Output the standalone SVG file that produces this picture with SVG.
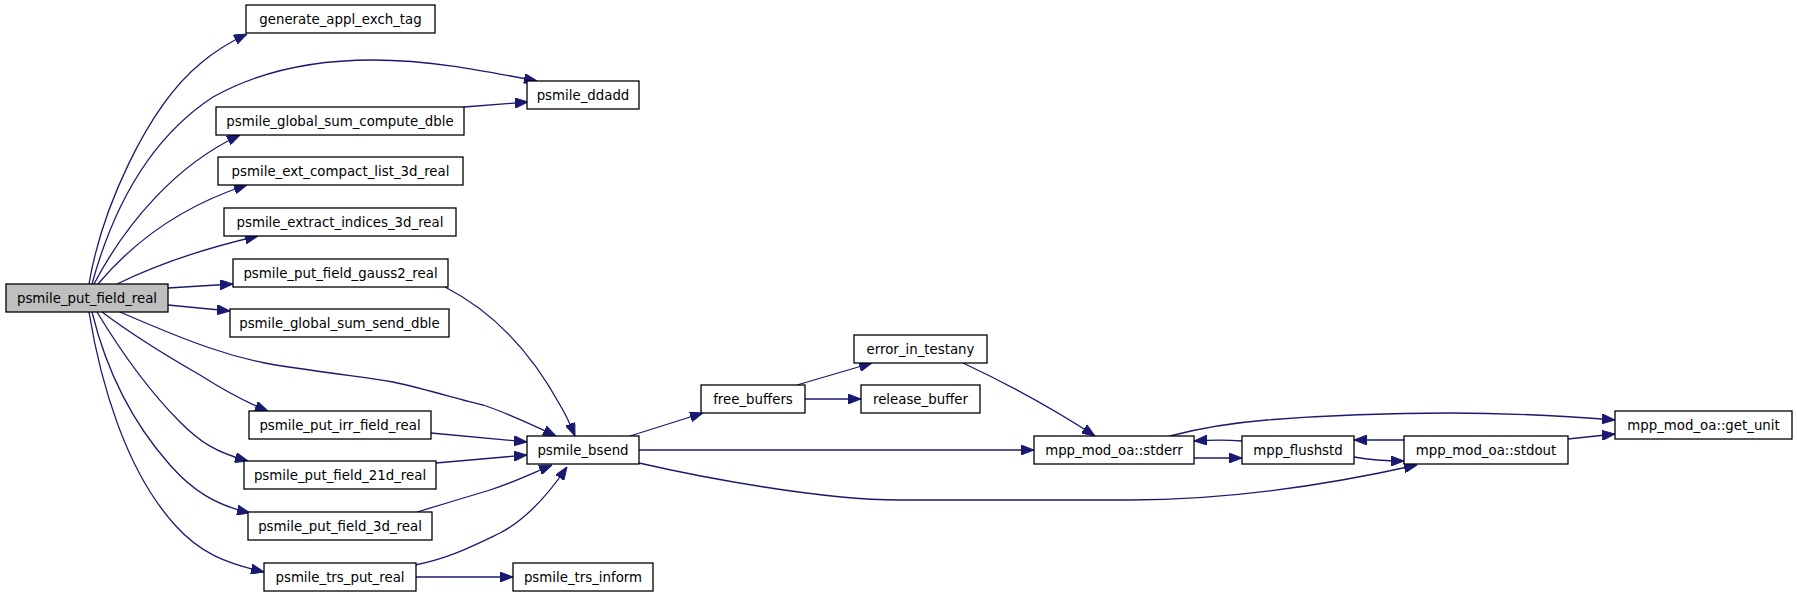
<svg xmlns="http://www.w3.org/2000/svg" width="1797" height="595" viewBox="0 0 1797 595">
<style>
.n rect{fill:#fff;stroke:#000;stroke-width:1.3}
.n.root rect{fill:#bfbfbf}
.n text{font-family:"DejaVu Sans","Liberation Sans",sans-serif;font-size:13.33px;text-anchor:middle;fill:#000}
.e path{fill:none;stroke:#191970;stroke-width:1.3;marker-end:url(#ah)}
</style>
<defs>
<marker id="ah" viewBox="0 0 13 10" refX="13" refY="5" markerWidth="13" markerHeight="10" markerUnits="userSpaceOnUse" orient="auto">
<path d="M0,0 L13,5 L0,10 z" fill="#191970" stroke="#191970" stroke-width="1"/>
</marker>
</defs>
<rect width="1797" height="595" fill="#fff"/>
<g id="edges" class="e">
<path d="M89,284 C101,212 146,108 201,63 C214,52 230,42 247,34"/>
<path d="M92,284 C115,200 155,135 213,97 C263,69 318,60 373,60 C430,60 480,70 537,81"/>
<path d="M94,284 C125,225 175,165 240,135"/>
<path d="M98,284 C135,240 185,205 247,185"/>
<path d="M117,284 C160,263 210,247 258,236"/>
<path d="M168,288 L233,284"/>
<path d="M168,305 L230,311"/>
<path d="M120,312 C150,325 180,338 210,348 C250,362 280,366 310,370 C340,375 365,377 393,382 C430,390 460,400 483,405 C510,414 535,426 556,436"/>
<path d="M102,312 C130,333 165,355 200,375 C222,389 245,402 268,411"/>
<path d="M97,312 C120,350 150,392 180,422 C200,442 215,452 248,461"/>
<path d="M92,312 C105,365 130,420 170,465 C192,490 215,505 250,513"/>
<path d="M89,312 C100,380 125,470 175,525 C200,553 225,563 264,572"/>
<path d="M464,107 L528,102"/>
<path d="M445,287 C490,310 530,350 560,405 C566,415 571,426 575,436"/>
<path d="M431,433 L527,442"/>
<path d="M436,463 L527,455"/>
<path d="M417,512 C440,505 467,497 490,490 C515,482 535,472 552,465"/>
<path d="M415,565 C450,558 475,545 500,533 C525,520 548,495 567,467"/>
<path d="M416,577 L513,577"/>
<path d="M630,436 L703,413"/>
<path d="M639,450 L1034,450"/>
<path d="M639,463 C700,477 820,500 900,500 L1130,500 C1240,500 1350,480 1417,465"/>
<path d="M797,385 L872,363"/>
<path d="M805,399 L861,399"/>
<path d="M963,363 C1010,385 1055,410 1095,436"/>
<path d="M1170,436 C1200,428 1230,423 1267,420 C1330,415 1400,413 1450,413 C1510,413 1565,416 1615,420"/>
<path d="M1194,458 L1242,458"/>
<path d="M1242,441 C1230,440 1210,440 1194,441"/>
<path d="M1354,457 C1370,460 1385,461 1404,461"/>
<path d="M1404,440 L1354,440"/>
<path d="M1568,439 L1615,434"/>
</g>
<g id="psmile_put_field_real" class="n root"><rect x="6" y="284" width="162" height="28"/><text x="87" y="303">psmile_put_field_real</text></g>
<g id="generate_appl_exch_tag" class="n"><rect x="246" y="5" width="189" height="28"/><text x="340.5" y="24">generate_appl_exch_tag</text></g>
<g id="psmile_ddadd" class="n"><rect x="527" y="81" width="112" height="28"/><text x="583" y="100">psmile_ddadd</text></g>
<g id="psmile_global_sum_compute_dble" class="n"><rect x="216" y="107" width="248" height="28"/><text x="340" y="126">psmile_global_sum_compute_dble</text></g>
<g id="psmile_ext_compact_list_3d_real" class="n"><rect x="218" y="157" width="245" height="28"/><text x="340.5" y="176">psmile_ext_compact_list_3d_real</text></g>
<g id="psmile_extract_indices_3d_real" class="n"><rect x="224" y="208" width="232" height="28"/><text x="340" y="227">psmile_extract_indices_3d_real</text></g>
<g id="psmile_put_field_gauss2_real" class="n"><rect x="233" y="259" width="215" height="28"/><text x="340.5" y="278">psmile_put_field_gauss2_real</text></g>
<g id="psmile_global_sum_send_dble" class="n"><rect x="230" y="309" width="219" height="28"/><text x="339.5" y="328">psmile_global_sum_send_dble</text></g>
<g id="psmile_put_irr_field_real" class="n"><rect x="249" y="411" width="182" height="28"/><text x="340" y="430">psmile_put_irr_field_real</text></g>
<g id="psmile_put_field_21d_real" class="n"><rect x="244" y="461" width="192" height="28"/><text x="340" y="480">psmile_put_field_21d_real</text></g>
<g id="psmile_put_field_3d_real" class="n"><rect x="248" y="512" width="184" height="28"/><text x="340" y="531">psmile_put_field_3d_real</text></g>
<g id="psmile_trs_put_real" class="n"><rect x="264" y="563" width="152" height="28"/><text x="340" y="582">psmile_trs_put_real</text></g>
<g id="psmile_bsend" class="n"><rect x="527" y="436" width="112" height="28"/><text x="583" y="455">psmile_bsend</text></g>
<g id="psmile_trs_inform" class="n"><rect x="513" y="563" width="140" height="28"/><text x="583" y="582">psmile_trs_inform</text></g>
<g id="free_buffers" class="n"><rect x="701" y="385" width="104" height="28"/><text x="753" y="404">free_buffers</text></g>
<g id="error_in_testany" class="n"><rect x="854" y="335" width="133" height="28"/><text x="920.5" y="354">error_in_testany</text></g>
<g id="release_buffer" class="n"><rect x="861" y="385" width="119" height="28"/><text x="920.5" y="404">release_buffer</text></g>
<g id="mpp_mod_oa_stderr" class="n"><rect x="1034" y="436" width="160" height="28"/><text x="1114" y="455">mpp_mod_oa::stderr</text></g>
<g id="mpp_flushstd" class="n"><rect x="1242" y="436" width="112" height="28"/><text x="1298" y="455">mpp_flushstd</text></g>
<g id="mpp_mod_oa_stdout" class="n"><rect x="1404" y="436" width="164" height="28"/><text x="1486" y="455">mpp_mod_oa::stdout</text></g>
<g id="mpp_mod_oa_get_unit" class="n"><rect x="1615" y="411" width="177" height="28"/><text x="1703.5" y="430">mpp_mod_oa::get_unit</text></g>
</svg>
